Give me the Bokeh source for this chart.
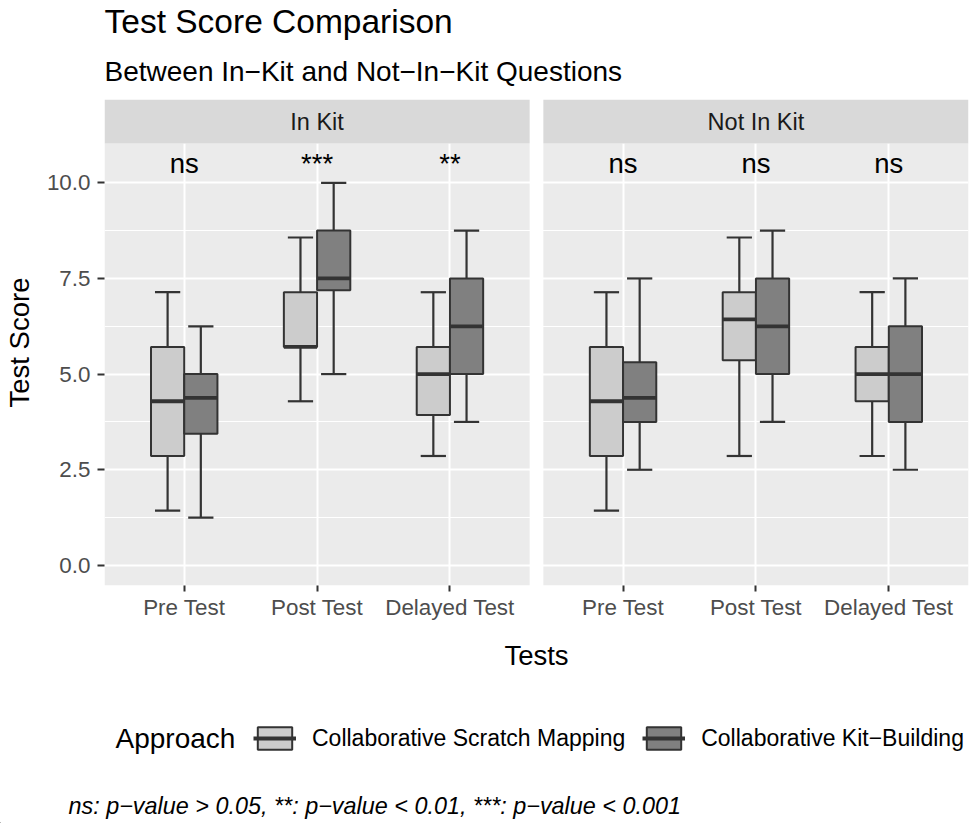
from bokeh.plotting import figure
from bokeh.layouts import column
from bokeh.models import (FactorRange, Range1d, ColumnDataSource, FixedTicker,
                          PrintfTickFormatter, Legend, LegendItem, Title, Label)
from bokeh.transform import dodge
from bokeh.core.properties import value
from bokeh.embed import file_html
from bokeh.resources import INLINE

# ---- data -------------------------------------------------------------
panels = ["In Kit", "Not In Kit"]
tests = ["Pre Test", "Post Test", "Delayed Test"]
approaches = ["Collaborative Scratch Mapping", "Collaborative Kit\u2212Building"]

# five-number summaries, ordered In Kit (Pre, Post, Delayed), Not In Kit (Pre, Post, Delayed)
scratch_low = [1.43, 4.29, 2.86, 1.43, 2.86, 2.86]
scratch_q1 = [2.86, 5.71, 3.93, 2.86, 5.36, 4.29]
scratch_med = [4.29, 5.71, 5.00, 4.29, 6.43, 5.00]
scratch_q3 = [5.71, 7.14, 5.71, 5.71, 7.14, 5.71]
scratch_high = [7.14, 8.57, 7.14, 7.14, 8.57, 7.14]

kit_low = [1.25, 5.00, 3.75, 2.50, 3.75, 2.50]
kit_q1 = [3.44, 7.19, 5.00, 3.75, 5.00, 3.75]
kit_med = [4.38, 7.50, 6.25, 4.38, 6.25, 5.00]
kit_q3 = [5.00, 8.75, 7.50, 5.31, 7.50, 6.25]
kit_high = [6.25, 10.00, 8.75, 7.50, 8.75, 7.50]

significance = ["ns", "***", "**", "ns", "ns", "ns"]
sig_level = 10.5

y_ticks = [0, 2.5, 5, 7.5, 10]
y_minor_ticks = [1.25, 3.75, 6.25, 8.75]

title_text = "Test Score Comparison"
subtitle_text = "Between In\u2212Kit and Not\u2212In\u2212Kit Questions"
legend_title = "Approach"
caption_text = ("ns: p\u2212value > 0.05, **: p\u2212value < 0.01, "
                "***: p\u2212value < 0.001")

# ---- styling ------------------------------------------------------------
FONT = "Liberation Sans"
EDGE = "#333333"
FILLS = ["#CCCCCC", "#808080"]
OFFSETS = [-0.125, 0.125]
BOX_W = 0.25
CAP_W = 0.19
Y_LO, Y_PANEL_TOP, Y_TOP = -0.525, 11.025, 12.177
PAGE_W, MAIN_H, FOOT_H = 969, 680, 143

factors = [(pn, t) for pn in panels for t in tests]
x_range = FactorRange(factors=factors, factor_padding=0.0, group_padding=0.303,
                      range_padding=0.1, range_padding_units="absolute")

p = figure(x_range=x_range, y_range=Range1d(Y_LO, Y_TOP),
           frame_width=864, frame_height=486,
           min_border_left=104, min_border_right=1,
           min_border_top=99, min_border_bottom=MAIN_H - 99 - 486,
           output_backend="svg", toolbar_location=None,
           background_fill_color="white", border_fill_color="white",
           outline_line_color=None)
p.frame_align = False

# facet panels and strips
bg = ColumnDataSource(dict(
    left=[(pn, tests[0], -0.6) for pn in panels],
    right=[(pn, tests[-1], 0.6) for pn in panels],
    mid=[(pn, tests[1]) for pn in panels],
    label=panels,
))
p.quad(left="left", right="right", bottom=Y_LO, top=Y_PANEL_TOP, source=bg,
       fill_color="#EBEBEB", line_color=None, level="image")
p.quad(left="left", right="right", bottom=Y_PANEL_TOP, top=Y_TOP, source=bg,
       fill_color="#D9D9D9", line_color=None)
p.text(x="mid", y=(Y_PANEL_TOP + Y_TOP) / 2, text="label", source=bg,
       text_font=value(FONT), text_font_size="23.5px", text_color="#1A1A1A",
       text_align="center", text_baseline="middle")

# boxplots, one set per approach
series = [
    (scratch_low, scratch_q1, scratch_med, scratch_q3, scratch_high),
    (kit_low, kit_q1, kit_med, kit_q3, kit_high),
]
for off, fill, (lo, q1, med, q3, hi) in zip(OFFSETS, FILLS, series):
    src = ColumnDataSource(dict(x=factors, lo=lo, q1=q1, med=med, q3=q3, hi=hi))
    xc = dodge("x", off, range=x_range)
    xl = dodge("x", off - CAP_W / 2, range=x_range)
    xr = dodge("x", off + CAP_W / 2, range=x_range)
    p.segment(x0=xc, y0="lo", x1=xc, y1="hi", source=src,
              line_color=EDGE, line_width=2.2)
    p.segment(x0=xl, y0="hi", x1=xr, y1="hi", source=src,
              line_color=EDGE, line_width=2.2)
    p.segment(x0=xl, y0="lo", x1=xr, y1="lo", source=src,
              line_color=EDGE, line_width=2.2)
    p.vbar(x=xc, width=BOX_W, bottom="q1", top="q3", source=src,
           fill_color=fill, line_color=EDGE, line_width=2)
    p.segment(x0=dodge("x", off - BOX_W / 2, range=x_range), y0="med",
              x1=dodge("x", off + BOX_W / 2, range=x_range), y1="med",
              source=src, line_color=EDGE, line_width=3.8)

# significance markers
sig_src = ColumnDataSource(dict(x=factors, y=[sig_level] * len(factors), text=significance))
p.text(x="x", y="y", text="text", source=sig_src, text_font=value(FONT),
       text_font_size="27.5px", text_color="black", text_align="center",
       text_baseline="alphabetic")

# axes
y_ticker = FixedTicker(ticks=y_ticks, minor_ticks=y_minor_ticks)
p.yaxis.ticker = y_ticker
p.ygrid.ticker = y_ticker
p.yaxis.formatter = PrintfTickFormatter(format="%.1f")
p.xaxis.axis_label = "Tests"
p.yaxis.axis_label = "Test Score"
for ax in (p.xaxis[0], p.yaxis[0]):
    ax.axis_line_color = None
    ax.major_tick_line_color = EDGE
    ax.major_tick_line_width = 2
    ax.major_tick_in = 0
    ax.minor_tick_line_color = None
    ax.major_label_text_font = FONT
    ax.major_label_text_font_size = "22.4px"
    ax.major_label_text_color = "#4D4D4D"
    ax.axis_label_text_font = FONT
    ax.axis_label_text_font_size = "27.5px"
    ax.axis_label_text_font_style = "normal"
    ax.axis_label_text_color = "black"
p.xaxis.major_tick_out = 6
p.xaxis.major_label_standoff = 3
p.xaxis.axis_label_standoff = 17
p.xaxis.group_text_font_size = "1px"
p.xaxis.group_text_color = None
p.xaxis.separator_line_color = None
p.yaxis.major_tick_out = 7
p.yaxis.major_label_standoff = 7
p.yaxis.axis_label_standoff = 9

p.xgrid.grid_line_color = "white"
p.xgrid.grid_line_width = 2
p.ygrid.grid_line_color = "white"
p.ygrid.grid_line_width = 2
p.ygrid.minor_grid_line_color = "white"
p.ygrid.minor_grid_line_width = 1

# titles
p.title.text = title_text
p.title.text_font = FONT
p.title.text_font_size = "33.5px"
p.title.text_font_style = "normal"
p.title.text_color = "black"
p.title.align = "left"
p.title.standoff = 1
p.add_layout(Title(text=subtitle_text, align="left", text_font=FONT,
                   text_font_size="28px", text_font_style="normal",
                   text_color="black", standoff=26), "above")

# ---- footer: legend and caption, in pixel coordinates of the strip -----
foot = figure(width=PAGE_W, height=FOOT_H, x_range=Range1d(0, PAGE_W),
              y_range=Range1d(0, FOOT_H), x_axis_type=None, y_axis_type=None,
              min_border=0, output_backend="svg", toolbar_location=None,
              background_fill_color="white", border_fill_color="white",
              outline_line_color=None)
foot.frame_align = False
foot.grid.visible = False

# legend keys: proxy glyphs parked outside the visible strip
legend_items = []
for name, fill in zip(approaches, FILLS):
    key_src = ColumnDataSource(dict(x=[-100], top=[-90], bottom=[-95],
                                    x0=[-110], x1=[-90], y=[-92]))
    key_box = foot.vbar(x="x", top="top", bottom="bottom", width=10, source=key_src,
                        fill_color=fill, line_color=EDGE, line_width=2)
    key_med = foot.segment(x0="x0", y0="y", x1="x1", y1="y", source=key_src,
                           line_color=EDGE, line_width=3.8)
    legend_items.append(LegendItem(label=name, renderers=[key_box, key_med]))

legend = Legend(items=legend_items, orientation="horizontal", location=(253, 71),
                label_text_font=FONT, label_text_font_size="23px",
                label_text_color="black", glyph_width=43, glyph_height=28,
                label_standoff=16, spacing=17, padding=0, margin=0,
                background_fill_alpha=0, border_line_color=None)
foot.add_layout(legend)
foot.add_layout(Label(x=115, y=84.7, text=legend_title, text_font=FONT,
                      text_font_size="28px", text_color="black",
                      text_align="left", text_baseline="middle"))
foot.add_layout(Label(x=68, y=18, text=caption_text, text_font=FONT,
                      text_font_size="23.4px", text_font_style="italic",
                      text_color="black", text_align="left",
                      text_baseline="middle"))

layout = column(p, foot, spacing=0)
open("out.html", "w").write(file_html(layout, INLINE))
